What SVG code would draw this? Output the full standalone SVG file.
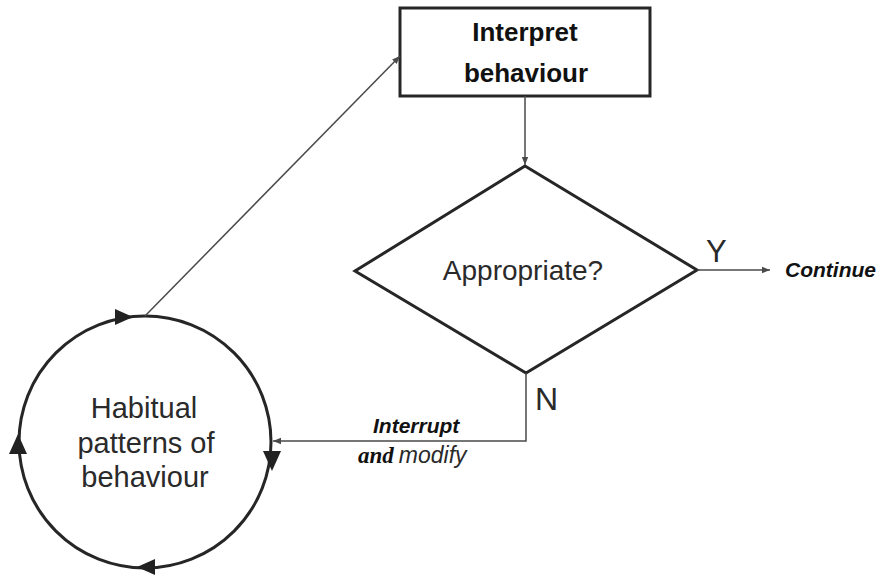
<svg xmlns="http://www.w3.org/2000/svg" width="883" height="577" viewBox="0 0 883 577">
  <style>
    .shape { fill: none; stroke: #262626; stroke-width: 3; }
    .conn { fill: none; stroke: #4a4a4a; stroke-width: 1.5; }
    .sans { font-family: "Liberation Sans", Arial, sans-serif; fill: #2a2a2a; }
    .bold { font-weight: bold; fill: #111; }
    .ital { font-style: italic; }
    .serif { font-family: "Liberation Serif", "Times New Roman", serif; }
  </style>
  <defs>
    <marker id="arr" viewBox="0 0 10 10" refX="10" refY="5" markerWidth="8" markerHeight="8" markerUnits="userSpaceOnUse" orient="auto">
      <path d="M0,1 L10,5 L0,9 Z" fill="#4a4a4a"/>
    </marker>
  </defs>
  <rect width="883" height="577" fill="#fff"/>

  <!-- process box -->
  <g id="interpret">
    <rect class="shape" x="400" y="8" width="250" height="88"/>
    <text class="sans bold" x="525" y="41" font-size="26" text-anchor="middle">Interpret</text>
    <text class="sans bold" x="526" y="82" font-size="26" text-anchor="middle">behaviour</text>
  </g>

  <!-- decision -->
  <g id="appropriate">
    <polygon class="shape" points="525,166 697,270 526,373 355,271"/>
    <text class="sans" x="523" y="280" font-size="28" text-anchor="middle">Appropriate?</text>
  </g>

  <!-- cycle of habits -->
  <g id="habitual">
    <circle class="shape" cx="145" cy="442" r="126" stroke-width="3.5"/>
    <g fill="#222">
      <polygon points="133,317 115,309 115,325"/>
      <polygon points="272,471 263,451 281,451"/>
      <polygon points="137,567 155,559 155,575"/>
      <polygon points="18,434 9,454 27,454"/>
    </g>
    <text class="sans" x="144" y="418" font-size="29" text-anchor="middle">Habitual</text>
    <text class="sans" x="146" y="453" font-size="29" text-anchor="middle">patterns of</text>
    <text class="sans" x="145" y="487" font-size="29" text-anchor="middle">behaviour</text>
  </g>

  <g id="continue">
    <text class="sans bold ital" x="785" y="277" font-size="21">Continue</text>
  </g>

  <!-- connectors -->
  <g id="connectors">
    <line class="conn" x1="145" y1="316" x2="400" y2="56" marker-end="url(#arr)"/>
    <line class="conn" x1="525" y1="96" x2="525" y2="165" marker-end="url(#arr)"/>
    <line class="conn" x1="697" y1="270" x2="770" y2="270" marker-end="url(#arr)"/>
    <polyline class="conn" points="526,373 526,441 273,441" marker-end="url(#arr)"/>
    <text class="sans" x="706" y="262" font-size="31">Y</text>
    <text class="sans" x="535" y="410" font-size="32">N</text>
    <text class="sans bold ital" x="373" y="433" font-size="21">Interrupt</text>
    <text x="358" y="463" font-size="23"><tspan class="serif bold ital">and</tspan><tspan class="sans ital" dx="5">modify</tspan></text>
  </g>
</svg>
